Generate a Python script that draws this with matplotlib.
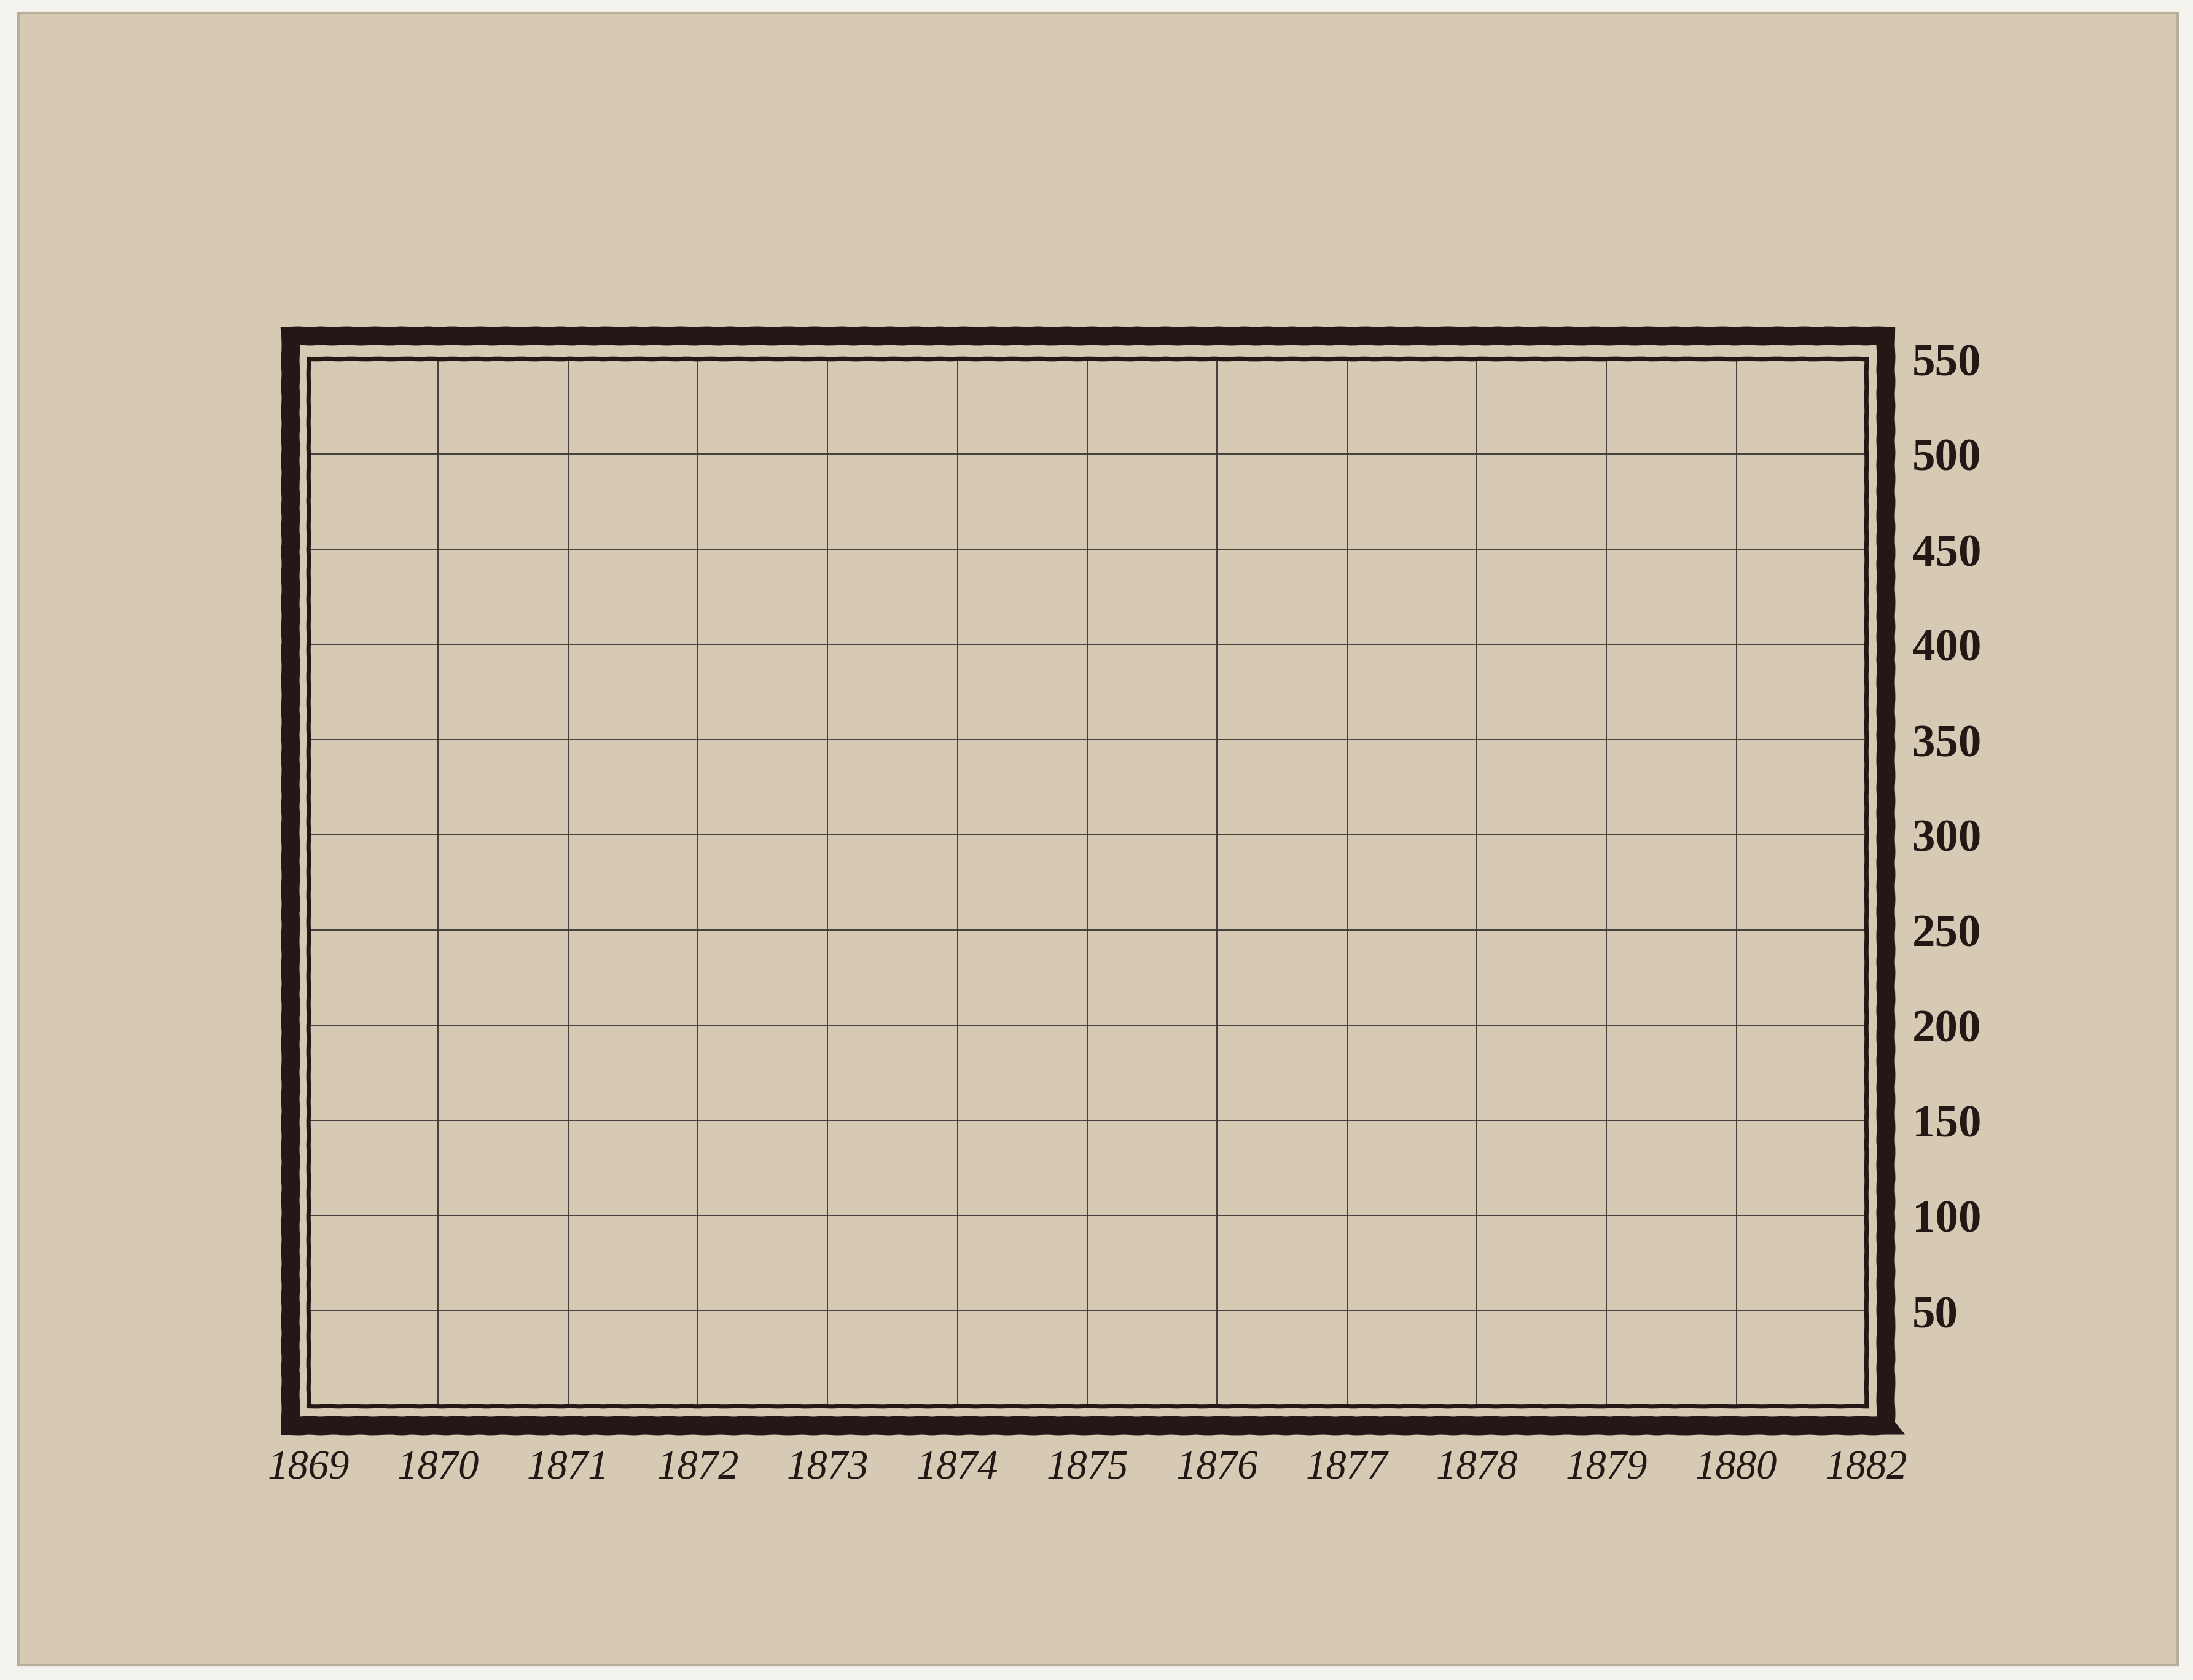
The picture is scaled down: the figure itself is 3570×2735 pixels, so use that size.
import numpy as np
import matplotlib.pyplot as plt
from matplotlib.patches import Rectangle

# Etiquetas de los ejes
x_labels = ['1869', '1870', '1871', '1872', '1873', '1874', '1875',
            '1876', '1877', '1878', '1879', '1880', '1882']
y_ticks = [50, 100, 150, 200, 250, 300, 350, 400, 450, 500, 550]

ink = '#231815'
paper = '#d6cab5'

if __name__ == "__main__":
    W, H, dpi = 3570, 2736, 300
    fig = plt.figure(figsize=(W / dpi, H / dpi), dpi=dpi, facecolor='#f3f2ec')

    # hoja de papel
    fig.patches.append(Rectangle((30 / W, 1 - 2712 / H), (3545 - 30) / W, (2712 - 22) / H,
                                 transform=fig.transFigure, facecolor=paper,
                                 edgecolor='#b9ae9a', linewidth=1.0, zorder=-5))

    # ejes (marco interior)
    left, right, top, bottom = 502, 3038, 585, 2290
    ax = fig.add_axes([left / W, 1 - bottom / H, (right - left) / W, (bottom - top) / H])
    ax.set_facecolor('none')

    xs = np.arange(len(x_labels))
    ax.set_xlim(xs[0], xs[-1])
    ax.set_ylim(0, 550)
    ax.set_xticks(xs)
    ax.set_xticklabels(x_labels, family='Liberation Serif', style='italic',
                       fontsize=16, color=ink)
    ax.set_yticks(y_ticks)
    ax.set_yticklabels([str(v) for v in y_ticks], family='Liberation Serif',
                       weight='bold', fontsize=18, color=ink)
    ax.yaxis.tick_right()
    ax.tick_params(axis='x', length=0, pad=17)
    ax.tick_params(axis='y', length=0, pad=18)
    for t in ax.get_yticklabels():
        t.set_horizontalalignment('left')

    ax.grid(True, color='#3c3a38', linewidth=0.45)
    for s in ax.spines.values():
        s.set_color(ink)
        s.set_linewidth(1.7)
        s.set_capstyle('projecting')
        s.set_sketch_params(0.3, 50, 3)

    # marco exterior grueso
    ol, orr, ot, ob = 473, 3070, 548, 2322
    frame = Rectangle((ol / W, 1 - ob / H), (orr - ol) / W, (ob - ot) / H,
                      transform=fig.transFigure, fill=False, edgecolor=ink,
                      linewidth=7.2, joinstyle='miter', zorder=3)
    frame.set_sketch_params(0.45, 50, 3)
    fig.patches.append(frame)

    plt.savefig('out.png', dpi=dpi, facecolor=fig.get_facecolor())
